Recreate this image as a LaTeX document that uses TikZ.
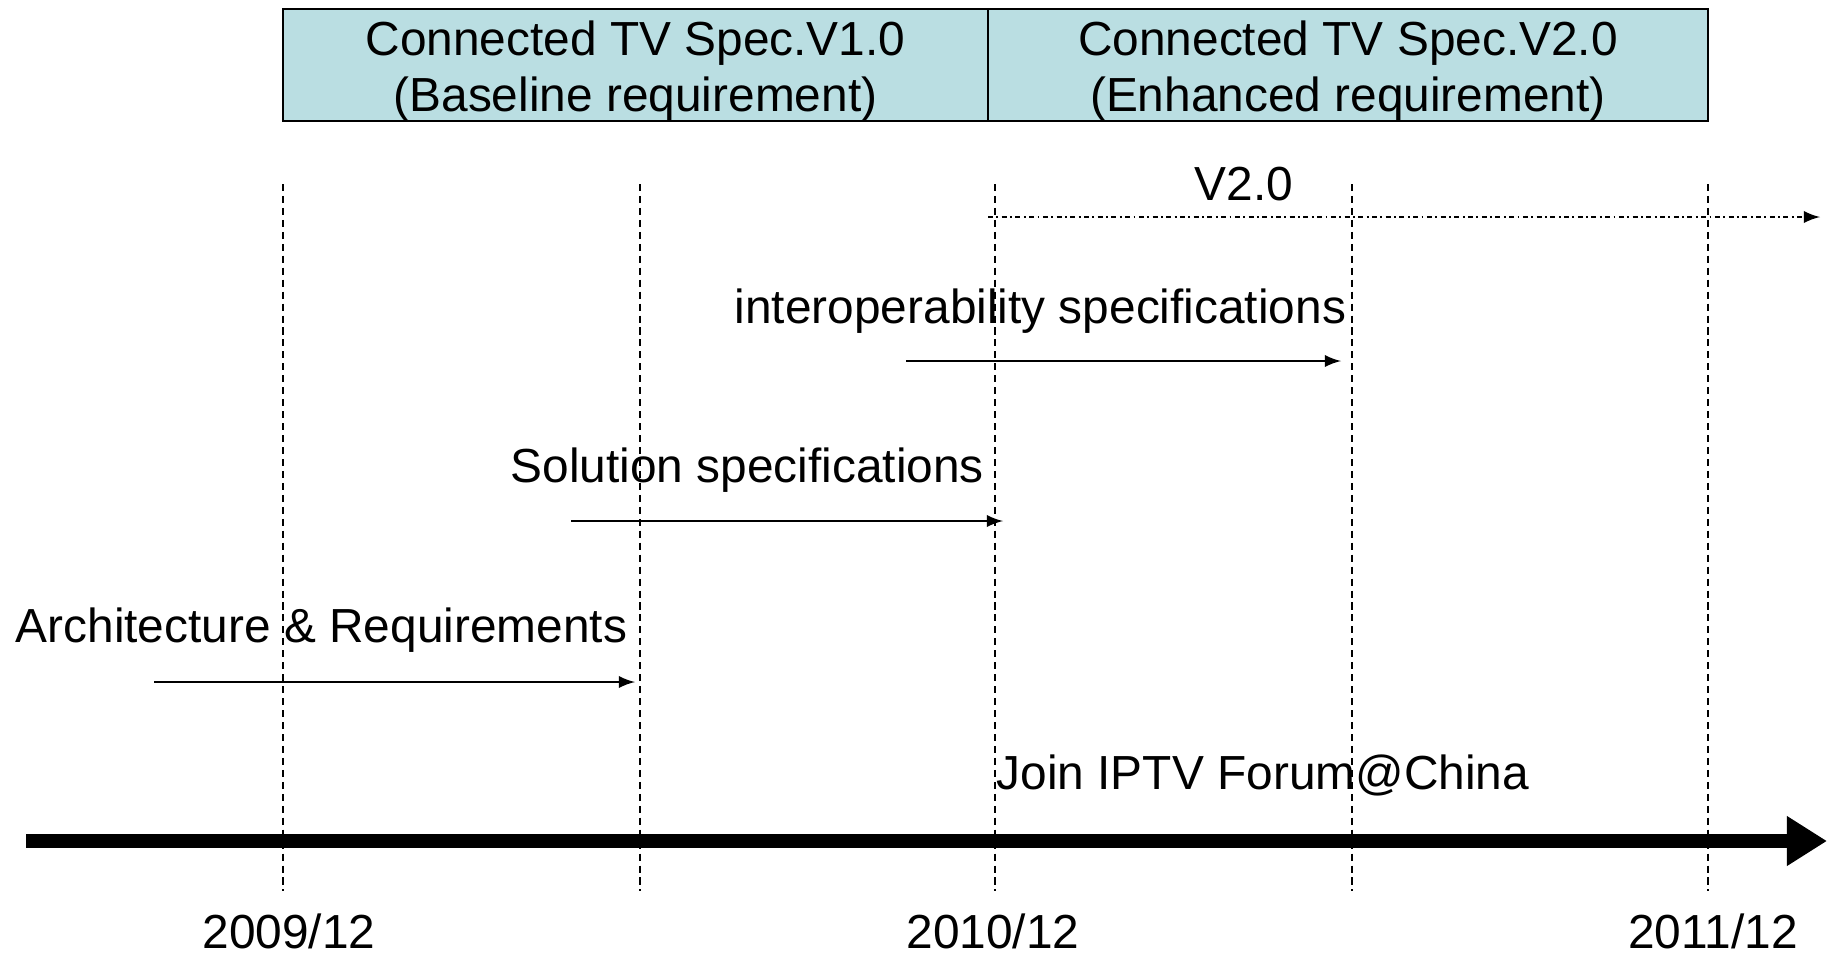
\documentclass[tikz,border=0pt]{standalone}
\usepackage{fontspec}
\setmainfont{Liberation Sans}
\usetikzlibrary{arrows}
\usetikzlibrary{arrows.meta}

\definecolor{specblue}{RGB}{186,222,226}
\newcommand{\boxstrut}{\rule{0pt}{0.46cm}}

\begin{document}
\begin{tikzpicture}[>=latex,x=0.01cm,y=-0.01cm,
      spec box/.style={draw,fill=specblue,semithick,align=center,inner sep=0pt,
        minimum height=1.12cm,font=\fontsize{13.6}{15.9}\selectfont},
      phase/.style={anchor=base west,inner sep=0pt,font=\fontsize{13.6}{16}\selectfont},
      year/.style={anchor=base,inner sep=0pt,font=\fontsize{13.6}{16}\selectfont},
      grid line/.style={semithick,dash pattern=on 2pt off 1.4pt}]
    \useasboundingbox (0,0) rectangle (1827,954);
    % spec boxes
    \node[spec box,minimum width=7.05cm] (V1) at (635.5,65) {\boxstrut Connected TV Spec.V1.0\\(Baseline requirement)};
    \node[spec box,minimum width=7.2cm] (V2) at (1348,65) {\boxstrut Connected TV Spec.V2.0\\(Enhanced requirement)};
    % time grid
    \foreach \x in {283,640,995,1352,1708}
      \draw[grid line] (\x,184) -- (\x,891);
    % labels
    \node[phase] (arch) at (15,642) {Architecture \& Requirements};
    \node[phase] (sol) at (510,482) {Solution specifications};
    \node[phase] (interop) at (734,323) {interoperability specifications};
    \node[phase,anchor=base] (v2lbl) at (1244,200) {V2.0};
    \node[phase] (join) at (996,789) {Join IPTV Forum@China};
    \node[year] (y2009) at (289,948) {2009/12};
    \node[year] (y2010) at (993,948) {2010/12};
    \node[year] (y2011) at (1713,948) {2011/12};
    % arrow ends
    \coordinate (a0) at (154,682);  \coordinate (a1) at (635,682);
    \coordinate (s0) at (571,521);  \coordinate (s1) at (1003,521);
    \coordinate (i0) at (906,361);  \coordinate (i1) at (1341,361);
    \coordinate (v0) at (988,217);  \coordinate (v1) at (1820,217);
    \coordinate (t0) at (26,841);   \coordinate (t1) at (1827,841);
    \path[semithick]
      (a0) edge[->] (a1)
      (s0) edge[->] (s1)
      (i0) edge[->] (i1)
      (v0) edge[->,dash pattern=on 1.4pt off 1pt on 0.5pt off 1pt] (v1);
    \draw[line width=4pt,-{Triangle[length=0.4cm,width=0.47cm]}] (t0) -- (t1);
\end{tikzpicture}
\end{document}
